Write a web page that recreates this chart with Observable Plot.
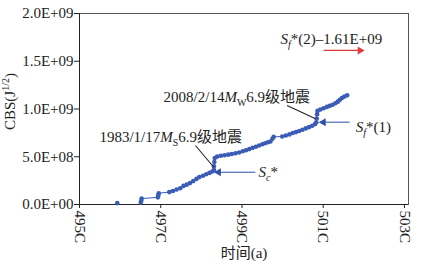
<!DOCTYPE html>
<html><head><meta charset="utf-8">
<script src="https://cdn.jsdelivr.net/npm/d3@7"></script>
<script src="https://cdn.jsdelivr.net/npm/@observablehq/plot@0.6"></script>
<style>body{margin:0;background:#fff}</style>
</head><body><div id="chart"></div>
<script>
// ---- data ----
const years = [1959.3,1965.1,1965.2,1965.3,1969.3,1969.4,1969.5,
 1972.1,1973.0,1973.9,1974.8,1975.6,1976.4,1977.2,1978.0,1978.8,1979.5,1980.4,1981.2,1982.0,1982.7,
 1983.1,1983.1,1983.2,1983.3,1983.9,1984.8,1985.7,1986.6,1987.5,1988.4,1989.3,1990.2,1991.0,1991.8,
 1992.6,1993.4,1994.2,1995.0,1995.7,1996.4,1997.0,1997.5,1997.8,1999.9,2000.8,2001.7,2002.5,2003.3,
 2004.1,2004.9,2005.7,2006.5,2007.3,2008.0,2008.3,2008.4,2008.5,2008.6,2009.3,2010.1,2010.9,2011.6,
 2012.3,2013.0,2013.6,2014.1,2014.6,2015.2,2015.9];
const cbs = [0.014e9,0.022e9,0.040e9,0.062e9,0.075e9,0.097e9,0.118e9,
 0.130e9,0.142e9,0.157e9,0.170e9,0.195e9,0.208e9,0.224e9,0.245e9,0.268e9,0.287e9,0.301e9,0.316e9,0.331e9,0.345e9,
 0.362e9,0.400e9,0.445e9,0.487e9,0.502e9,0.511e9,0.516e9,0.522e9,0.529e9,0.537e9,0.545e9,0.557e9,0.568e9,0.580e9,
 0.593e9,0.605e9,0.618e9,0.631e9,0.642e9,0.652e9,0.660e9,0.688e9,0.708e9,0.712e9,0.722e9,0.734e9,0.748e9,0.758e9,
 0.770e9,0.783e9,0.797e9,0.810e9,0.824e9,0.842e9,0.860e9,0.900e9,0.945e9,0.980e9,0.994e9,1.008e9,1.022e9,1.033e9,
 1.045e9,1.060e9,1.077e9,1.097e9,1.115e9,1.130e9,1.143e9];
const xTickValues = [1950,1970,1990,2010,2030];
const xTickLabels = ["495C","497C","499C","501C","503C"];
const yTickValues = [0,5e8,1e9,1.5e9,2e9];
const yTickLabels = ["0.0E+00","5.0E+08","1.0E+09","1.5E+09","2.0E+09"];
const xTitle = "时间(a)";
const yTitle = "CBS(J1/2)";
const annoTexts = ["2008/2/14Mw6.9级地震","1983/1/17Ms6.9级地震","Sf*(1)","Sc*","Sf*(2)–1.61E+09"];
const annoX = [1970.7,1954.9,2018.0,1994.1,1999.5];
const annoY = [1.124e9,0.705e9,0.81e9,0.335e9,1.728e9];

const pts = years.map((x,i)=>({x, y: cbs[i]}));
const annos = annoTexts.map((t,i)=>({t, x: annoX[i], y: annoY[i]}));
const leaders = [{x1:2001.1,y1:1.037e9,x2:2008.1,y2:0.897e9},{x1:1978.55,y1:0.618e9,x2:1983.06,y2:0.39e9}];
const blueArrows = [{x1:2016.5,x2:2009.3,y:0.862e9},{x1:1993.3,x2:1983.5,y:0.338e9}];
const redArrows = [{x1:2010.1,x2:2019.8,y:1.613e9}];

const serif = '"Liberation Serif","Times New Roman","Noto Sans CJK SC",serif';
const blue = "#3a5cb6";

const chart = Plot.plot({
  width: 422, height: 266,
  marginLeft: 79, marginRight: 14, marginTop: 13, marginBottom: 62,
  style: {fontFamily: serif, fontSize: "15px", background: "#fff", color: "#222"},
  x: {domain: [1950, 2031]},
  y: {domain: [0, 2e9]},
  marks: [
    Plot.frame({stroke: "#555"}),
    Plot.ruleX([1950], {stroke: "#222"}),
    Plot.ruleY([0], {stroke: "#222"}),
    Plot.axisY({ticks: yTickValues, tickFormat: (d,i)=>yTickLabels[i], tickSize: 5, tickPadding: 1, label: null}),
    Plot.axisX({ticks: xTickValues, tickFormat: (d,i)=>xTickLabels[i], tickRotate: 90, tickSize: 4, tickPadding: 2, label: null}),
    Plot.line(pts.slice(1), {x: "x", y: "y", stroke: blue, strokeWidth: 1}),
    Plot.dot(pts, {x: "x", y: "y", r: 2.3, fill: blue, stroke: null}),
    Plot.link(leaders, {x1: "x1", y1: "y1", x2: "x2", y2: "y2", stroke: "#222", strokeWidth: 1.1}),
    Plot.link(blueArrows, {x1: "x1", x2: "x2", y1: "y", y2: "y", stroke: "#2f4fa8", strokeWidth: 1}),
    Plot.dot(blueArrows, {x: "x2", y: "y", symbol: "triangle2", r: 3.8, rotate: -90, dx: 3, fill: "#2f4fa8", stroke: null}),
    Plot.link(redArrows, {x1: "x1", x2: "x2", y1: "y", y2: "y", stroke: "#e03a3a", strokeWidth: 1.3}),
    Plot.dot(redArrows, {x: "x2", y: "y", symbol: "triangle2", r: 3.8, rotate: 90, dx: -3, fill: "#e03a3a", stroke: null}),
    Plot.text(annos, {x: "x", y: "y", text: "t", textAnchor: "start", lineAnchor: "middle", fill: "#222"}),
    Plot.text([yTitle], {frameAnchor: "left", text: d=>d, dx: -69.5, dy: -7.5, rotate: -90, textAnchor: "middle", lineAnchor: "middle", fill: "#222"}),
    Plot.text([xTitle], {frameAnchor: "bottom", text: d=>d, dy: 49, textAnchor: "middle", lineAnchor: "middle", fill: "#222"})
  ]
});
document.getElementById("chart").appendChild(chart);

// rich text: italics and sub/superscripts
const rich = {
  "2008/2/14Mw6.9级地震": [["2008/2/14"],["M","i"],["W","sub"],["6.9级地震"]],
  "1983/1/17Ms6.9级地震": [["1983/1/17"],["M","i"],["S","sub"],["6.9级地震"]],
  "Sf*(1)": [["S","i"],["f","isub"],["*(1)"]],
  "Sc*": [["S","i"],["c","isub"],["*"]],
  "Sf*(2)–1.61E+09": [["S","i"],["f","isub"],["*(2)–1.61E+09"]],
  "CBS(J1/2)": [["CBS(J"],["1/2","sup"],[")"]]
};
d3.select(chart).selectAll("text").each(function() {
  const el = d3.select(this);
  const spec = rich[this.textContent];
  if (!spec) return;
  el.text(null);
  let shift = 0;
  for (const [s, kind] of spec) {
    const ts = el.append("tspan").text(s);
    let target = 0;
    if (kind === "i") ts.attr("font-style", "italic");
    if (kind === "sub" || kind === "isub") { ts.attr("font-size", "10px"); target = 4; }
    if (kind === "isub") ts.attr("font-style", "italic");
    if (kind === "sup") { ts.attr("font-size", "10px"); target = -6; }
    if (target !== shift) { ts.attr("dy", target - shift); shift = target; }
  }
});
</script>
</body></html>
